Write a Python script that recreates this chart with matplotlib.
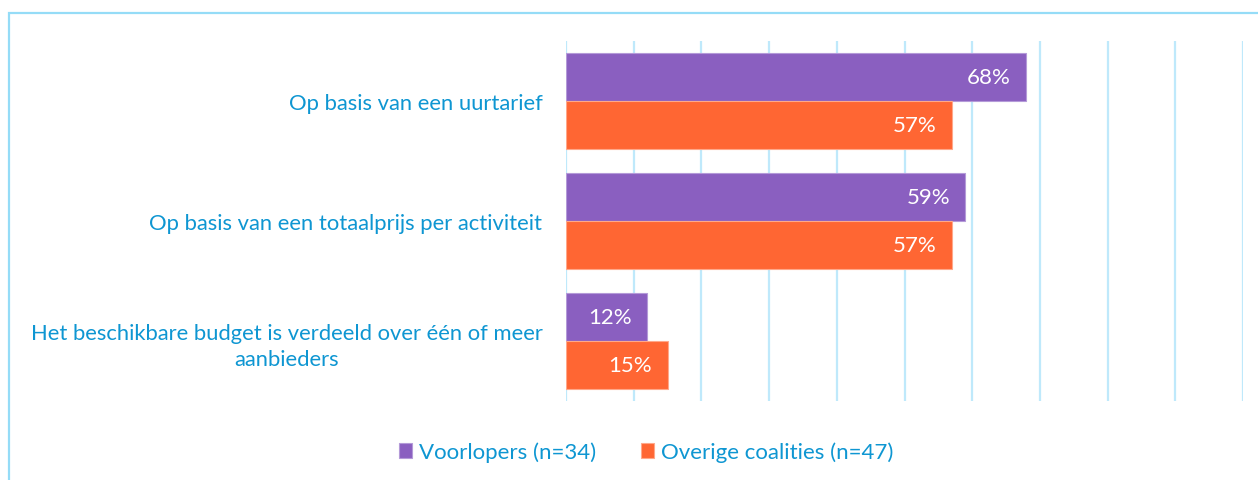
import matplotlib
matplotlib.use("Agg")
import matplotlib.pyplot as plt
from matplotlib.patches import Rectangle
import numpy as np

categories = [
    "Op basis van een uurtarief",
    "Op basis van een totaalprijs per activiteit",
    "Het beschikbare budget is verdeeld over één of meer\naanbieders",
]
series_names = ["Voorlopers (n=34)", "Overige coalities (n=47)"]
voorlopers = [68, 59, 12]
overige = [57, 57, 15]

purple = "#8a5fc0"
orange = "#ff6633"
text_blue = "#0e96d2"
grid_blue = "#bfe9fb"

plt.rcParams["font.family"] = ["Lato", "DejaVu Sans"]

W, H = 1258, 481
fig = plt.figure(figsize=(W / 100, H / 100), dpi=100)

# outer frame (open towards right/bottom edge)
fig.patches.append(Rectangle((9 / W, -0.1), 1.2, (H - 14) / H + 0.1,
                             transform=fig.transFigure, fill=False,
                             edgecolor="#95dcf7", linewidth=1.6))

ax = fig.add_axes([566 / W, 1 - 402 / H, (1243 - 566) / W, 360 / H])
y = np.arange(len(categories))
h = 0.4
b1 = ax.barh(y - h / 2, voorlopers, height=h, color=purple,
             edgecolor="#b49ad8", linewidth=0.8, label=series_names[0], zorder=3)
b2 = ax.barh(y + h / 2, overige, height=h, color=orange,
             edgecolor="#ffa88a", linewidth=0.8, label=series_names[1], zorder=3)

for bars, vals in ((b1, voorlopers), (b2, overige)):
    for bar, v in zip(bars, vals):
        ax.annotate(f"{v}%", xy=(v, bar.get_y() + bar.get_height() / 2),
                    xytext=(-11, 0), textcoords="offset points",
                    ha="right", va="center", color="white", fontsize=16,
                    zorder=4)

ax.set_xlim(0, 100)
ax.set_ylim(len(categories) - 0.5, -0.5)
ax.set_xticks(np.arange(0, 101, 10))
ax.xaxis.grid(True, color=grid_blue, linewidth=1.6, zorder=0)
ax.set_axisbelow(True)
ax.tick_params(axis="x", length=0, labelbottom=False)
ax.tick_params(axis="y", length=0, pad=17)
ax.set_yticks(y)
ax.set_yticklabels(categories, fontsize=15.8, color=text_blue,
                   multialignment="center", linespacing=1.4)
for s in ax.spines.values():
    s.set_visible(False)

leg = fig.legend(handles=[b1, b2], labels=series_names, loc="center",
                 bbox_to_anchor=(646 / W, 1 - 453 / H), ncol=2, frameon=False,
                 fontsize=16, handlelength=0.6, handleheight=0.6,
                 handletextpad=0.3, columnspacing=2.0)
for t in leg.get_texts():
    t.set_color(text_blue)

fig.savefig("out.png", dpi=100)
